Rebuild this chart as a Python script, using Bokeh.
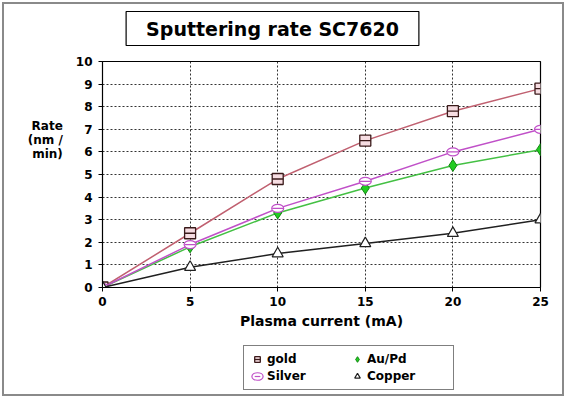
from bokeh.plotting import figure
from bokeh.layouts import column
from bokeh.models import Label, Legend, LegendItem, FixedTicker, Range1d
from bokeh.embed import file_html
from bokeh.resources import INLINE

current = [0, 5, 10, 15, 20, 25]
gold = [0, 2.4, 4.8, 6.5, 7.8, 8.8]
aupd = [0, 1.8, 3.3, 4.4, 5.4, 6.1]
silver = [0, 1.9, 3.5, 4.7, 6.0, 7.0]
copper = [0, 0.9, 1.5, 1.95, 2.4, 3.0]
x_ticks = [0, 5, 10, 15, 20, 25]
y_ticks = list(range(0, 11))

FONT = "DejaVu Sans"


def add_series(fig):
    rs = {}
    rs["gold_l"] = fig.line(current, gold, line_color="#c06070", line_width=1.5)
    rs["gold_m"] = fig.scatter(current, gold, marker="square", size=11, fill_color="#f6dde2",
                               line_color="#3a1a1a", line_width=1.3)
    rs["gold_d"] = fig.scatter(current, gold, marker="dash", size=11, line_color="#3a1a1a",
                               line_width=1.3)
    rs["au_l"] = fig.line(current, aupd, line_color="#44c044", line_width=1.5)
    rs["au_m"] = fig.scatter(current, aupd, marker="diamond", size=12, fill_color="#22cc22",
                             line_color="#118811", line_width=1)
    rs["ag_l"] = fig.line(current, silver, line_color="#c050c8", line_width=1.5)
    rs["ag_m"] = fig.ellipse(current, silver, width=12, height=8, width_units="screen",
                             height_units="screen", fill_color="white", line_color="#c050c8",
                             line_width=1.2)
    rs["ag_d"] = fig.scatter(current, silver, marker="dash", size=11, line_color="#c050c8",
                             line_width=1.2)
    rs["cu_l"] = fig.line(current, copper, line_color="#202020", line_width=1.5)
    rs["cu_m"] = fig.scatter(current, copper, marker="triangle", size=11, fill_color="white",
                             line_color="#202020", line_width=1.2)
    return rs


def blank_fig(h):
    f = figure(width=558, height=h, output_backend="svg", toolbar_location=None,
               x_axis_type=None, y_axis_type=None, x_range=Range1d(100, 101),
               y_range=Range1d(100, 101),
               min_border_left=0, min_border_right=0, min_border_top=0, min_border_bottom=0)
    f.outline_line_color = None
    f.xgrid.visible = False
    f.ygrid.visible = False
    f.background_fill_color = "white"
    f.border_fill_color = "white"
    return f


# title strip
r = blank_fig(50)
title = Label(x=170, y=26, x_units="screen", y_units="screen",
              text="Sputtering rate SC7620", text_font=FONT, text_font_style="bold",
              text_font_size="19px", text_color="black", text_align="center",
              text_baseline="middle",
              border_line_color="black", border_line_width=1.2,
              background_fill_color="white",
              padding=dict(left=20, right=20, top=6, bottom=6))
r.add_layout(title)

# main chart
p = figure(width=558, height=281, output_backend="svg", toolbar_location=None,
           x_range=Range1d(0, 25), y_range=Range1d(0, 10),
           min_border_left=98, min_border_right=22, min_border_top=7, min_border_bottom=48)
p.background_fill_color = "white"
p.border_fill_color = "white"
p.outline_line_color = "black"
p.outline_line_width = 1.2

for ax in (p.xaxis, p.yaxis):
    ax.axis_line_color = "black"
    ax.major_tick_line_color = "black"
    ax.minor_tick_line_color = None
    ax.major_tick_in = 0
    ax.major_tick_out = 4
    ax.major_label_text_font = FONT
    ax.major_label_text_font_style = "bold"
    ax.major_label_text_font_size = "12px"
    ax.major_label_text_color = "black"
p.xaxis.ticker = FixedTicker(ticks=x_ticks)
p.yaxis.ticker = FixedTicker(ticks=y_ticks)
p.xaxis.major_label_standoff = 5
p.yaxis.major_label_standoff = 6
p.xaxis.axis_label = "Plasma current (mA)"
p.xaxis.axis_label_text_font = FONT
p.xaxis.axis_label_text_font_style = "bold"
p.xaxis.axis_label_text_font_size = "14px"
p.xaxis.axis_label_text_color = "black"
p.xaxis.axis_label_standoff = 4
p.yaxis.axis_label = "Rate\n(nm /\nmin)\n\n\n\n\n"
p.yaxis.axis_label_orientation = "horizontal"
p.yaxis.axis_label_text_font = FONT
p.yaxis.axis_label_text_font_style = "bold"
p.yaxis.axis_label_text_font_size = "12px"
p.yaxis.axis_label_text_color = "black"
p.yaxis.axis_label_text_align = "center"
p.yaxis.axis_label_text_line_height = 1.0
p.yaxis.axis_label_standoff = 10

for g in (p.xgrid, p.ygrid):
    g.grid_line_color = "black"
    g.grid_line_dash = "2 2"
    g.grid_line_width = 1
    g.grid_line_alpha = 0.8

add_series(p)

# legend strip below the chart
q = blank_fig(59)
lr = add_series(q)
legend = Legend(items=[
    LegendItem(label="gold", renderers=[lr["gold_m"], lr["gold_d"]]),
    LegendItem(label="Au/Pd", renderers=[lr["au_m"]]),
    LegendItem(label="Silver", renderers=[lr["ag_m"], lr["ag_d"]]),
    LegendItem(label="Copper", renderers=[lr["cu_m"]]),
], ncols=2, location=(141, 4), orientation="horizontal")
legend.border_line_color = "black"
legend.border_line_width = 1
legend.background_fill_color = "white"
legend.label_text_font = FONT
legend.label_text_font_style = "bold"
legend.label_text_font_size = "12px"
legend.label_text_color = "black"
legend.glyph_width = 14
legend.glyph_height = 14
legend.label_standoff = 3
legend.spacing = 3
legend.padding = 6
legend.margin = 0
legend.label_height = 14
legend.label_width = 80
q.add_layout(legend, "center")

layout = column(r, p, q, spacing=0,
                styles={"margin": "4px", "outline": "2px solid #8a8a8a",
                        "outline-offset": "0px"})

open("out.html", "w").write(file_html(layout, INLINE))
